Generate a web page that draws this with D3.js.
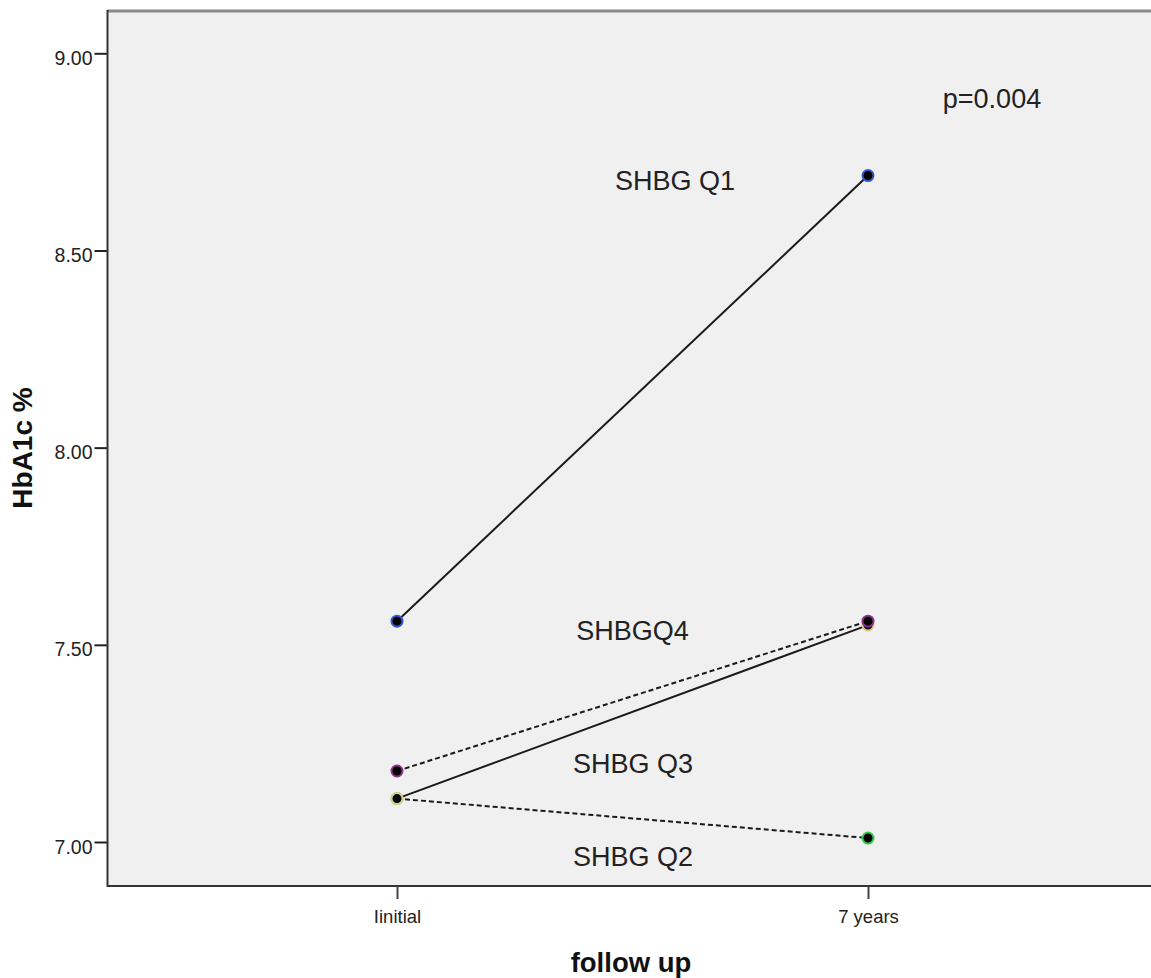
<!DOCTYPE html>
<html><head><meta charset="utf-8">
<script src="https://cdn.jsdelivr.net/npm/d3@7"></script>
<style>html,body{margin:0;padding:0;background:#fff;}svg{display:block;font-family:Arial,"Liberation Sans",sans-serif;}</style>
</head><body>
<svg id="c" width="1151" height="978"></svg>
<script>
const categories = ["Iinitial", "7 years"];
const seriesNames = ["SHBG Q1", "SHBG Q2", "SHBG Q3", "SHBG Q4"];
const q1 = [7.56, 8.69];
const q2 = [7.11, 7.01];
const q3 = [7.11, 7.55];
const q4 = [7.18, 7.56];
const yTicks = [7.00, 7.50, 8.00, 8.50, 9.00];
const seriesDashed = [false, true, false, true];
const seriesColors = ["#3558d0", "#35c850", "#d8cf8c", "#8a2f8a"];
const labelText = ["SHBG Q1", "SHBG Q2", "SHBG Q3", "SHBGQ4"];
const labelPos = [[675, 8.653], [633, 6.939], [633, 7.175], [632.5, 7.512]]; // [x px, baseline value]
const pText = "p=0.004";
const pPos = [992, 8.861];

const FONT = "Arial,'Liberation Sans',sans-serif";
const svg = d3.select("#c");
const L = 107.5, T = 11, R = 1160, B = 886;
const x = d3.scalePoint().domain(categories).range([397, 868]);
const y = d3.scaleLinear().domain([7.0, 9.0]).range([842, 53.3]);

svg.append("rect").attr("x", L).attr("y", T).attr("width", R - L).attr("height", B - T).attr("fill", "#f0f0f0");
svg.append("line").attr("x1", L).attr("x2", R).attr("y1", T).attr("y2", T).attr("stroke", "#8a8a8a").attr("stroke-width", 3);

const yAxis = svg.append("g").attr("transform", `translate(${L},0)`)
  .call(d3.axisLeft(y).tickValues(yTicks).tickFormat(d3.format(".2f")).tickSize(13).tickPadding(2));
yAxis.select(".domain").remove();
yAxis.selectAll(".tick line").attr("stroke", "#222").attr("stroke-width", 2);
yAxis.selectAll(".tick text").attr("font-size", 19.5).attr("dy", "0.57em").attr("fill", "#222").attr("font-family", FONT);

const xAxis = svg.append("g").attr("transform", `translate(0,${B})`)
  .call(d3.axisBottom(x).tickSize(13).tickPadding(6));
xAxis.select(".domain").remove();
xAxis.selectAll(".tick line").attr("stroke", "#444").attr("stroke-width", 2);
xAxis.selectAll(".tick text").attr("font-size", 18.5).attr("y", 37).attr("dy", 0).attr("fill", "#222").attr("font-family", FONT);

svg.append("line").attr("x1", L).attr("x2", L).attr("y1", T - 1).attr("y2", B + 1).attr("stroke", "#333").attr("stroke-width", 2);
svg.append("line").attr("x1", L).attr("x2", R).attr("y1", B).attr("y2", B).attr("stroke", "#333").attr("stroke-width", 2);

const data = [q1, q2, q3, q4];
const line = d3.line().x((d, i) => x(categories[i])).y(d => y(d));
[3, 1, 2, 0].forEach(s => {
  svg.append("path").datum(data[s]).attr("d", line).attr("fill", "none")
    .attr("stroke", "#1a1a1a").attr("stroke-width", 2)
    .attr("stroke-dasharray", seriesDashed[s] ? "5,3" : null);
});
[1, 2, 3, 0].forEach(s => {
  svg.append("g").selectAll("circle").data(data[s]).join("circle")
    .attr("cx", (d, i) => x(categories[i])).attr("cy", d => y(d)).attr("r", 5.5)
    .attr("fill", "#000").attr("stroke", seriesColors[s]).attr("stroke-width", 2);
});

labelText.forEach((t, i) => {
  svg.append("text").attr("x", labelPos[i][0]).attr("y", y(labelPos[i][1]))
    .attr("text-anchor", "middle").attr("font-size", 27).attr("fill", "#222").text(t);
});
svg.append("text").attr("x", pPos[0]).attr("y", y(pPos[1])).attr("text-anchor", "middle")
  .attr("font-size", 27).attr("fill", "#222").text(pText);

svg.append("text").attr("transform", "translate(32,448) rotate(-90)").attr("text-anchor", "middle")
  .attr("font-size", 28).attr("font-weight", "bold").attr("fill", "#111").text("HbA1c %");
svg.append("text").attr("x", 631).attr("y", 972).attr("text-anchor", "middle")
  .attr("font-size", 27.5).attr("font-weight", "bold").attr("fill", "#111").text("follow up");
</script>
</body></html>
